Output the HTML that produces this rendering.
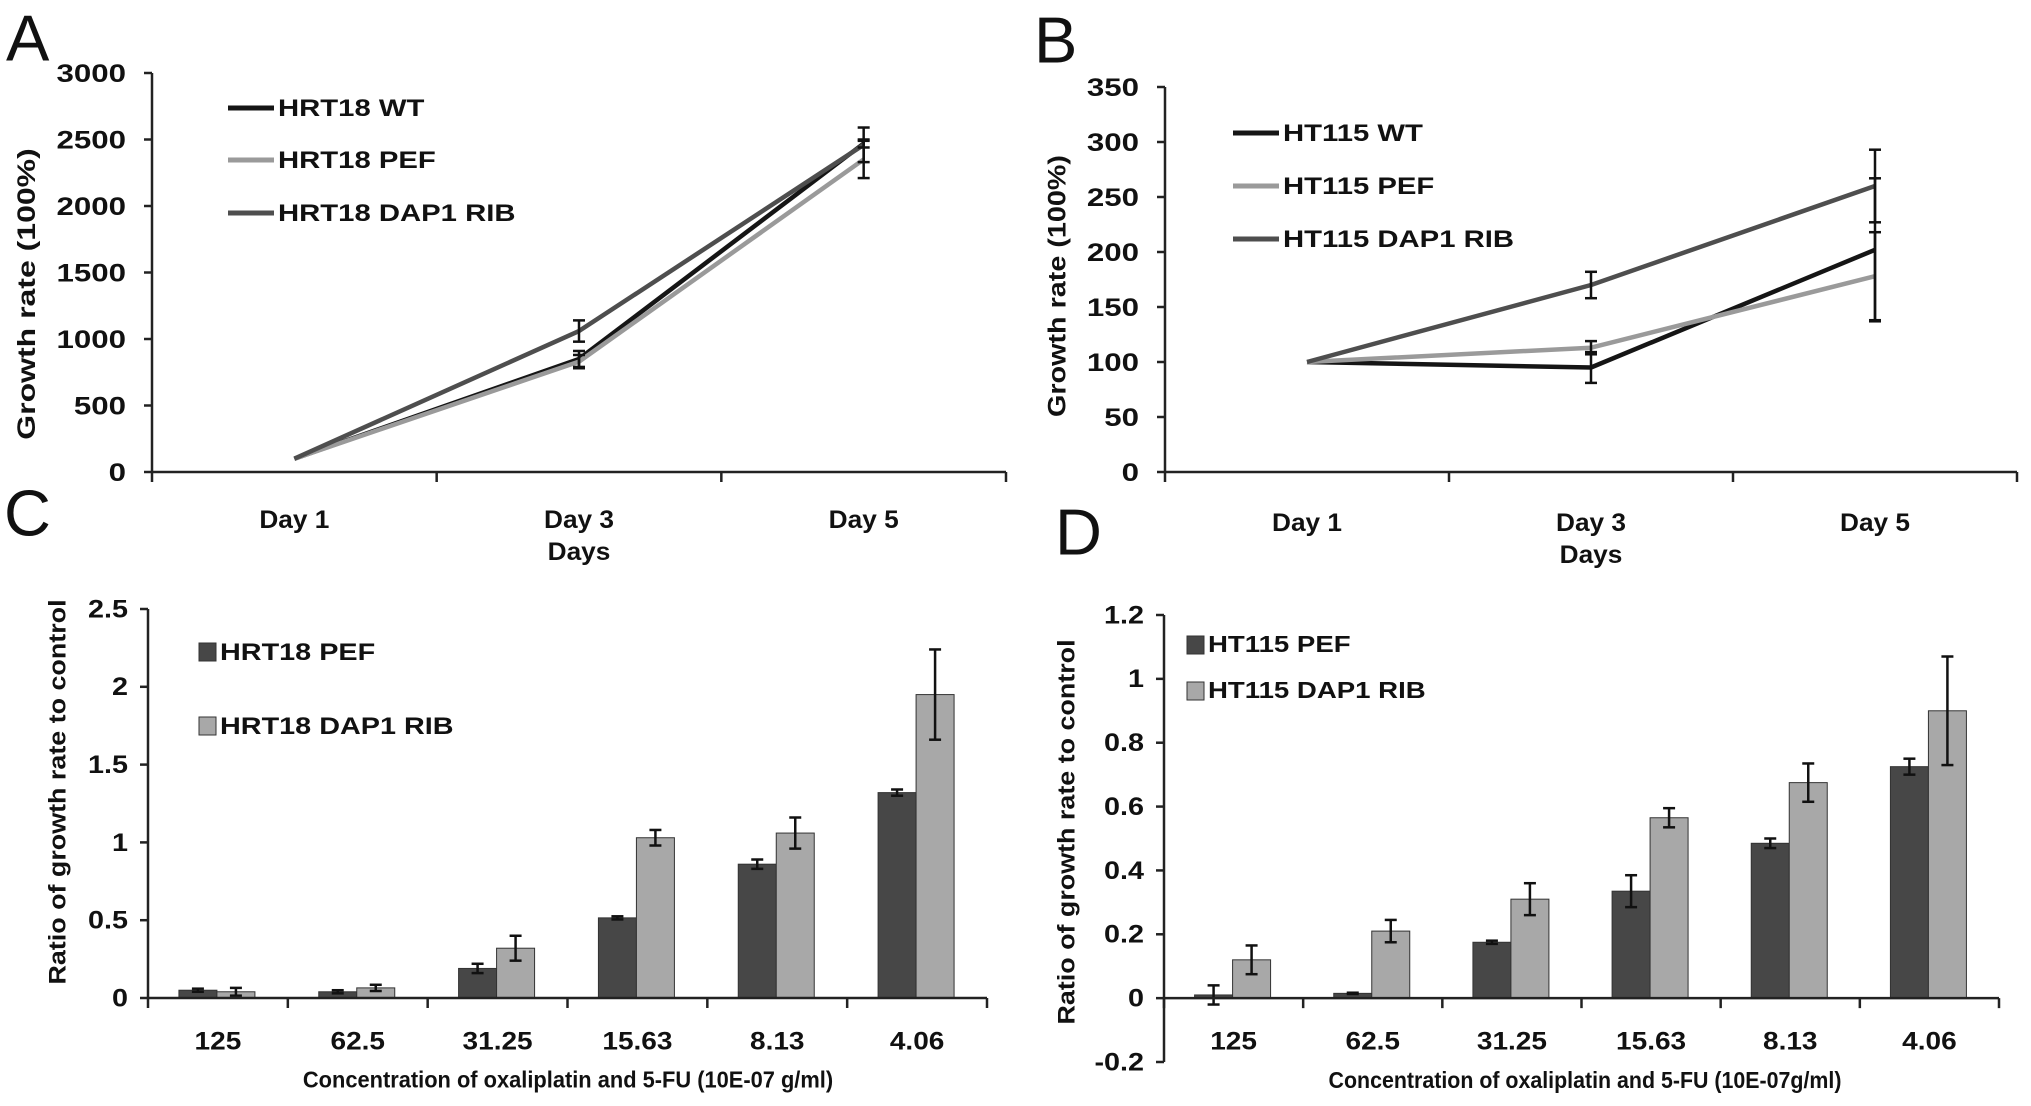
<!DOCTYPE html>
<html><head><meta charset="utf-8"><style>
html,body{margin:0;padding:0;background:#fff;}
svg{display:block;font-family:"Liberation Sans",Arial,sans-serif;}
</style></head><body>
<svg id="fig" width="2031" height="1106" viewBox="0 0 2031 1106" xmlns="http://www.w3.org/2000/svg"></svg>
<script>
// ---- Panel A data ----
const aCategories = ["Day 1", "Day 3", "Day 5"];
const aTicks = [0, 500, 1000, 1500, 2000, 2500, 3000];
const aSeriesNames = ["HRT18 WT", "HRT18 PEF", "HRT18 DAP1 RIB"];
const aWT = [100, 850, 2470];
const aWTErr = [0, 60, 30];
const aPEF = [100, 830, 2350];
const aPEFErr = [0, 50, 140];
const aDAP = [100, 1060, 2460];
const aDAPErr = [0, 80, 130];
// ---- Panel B data ----
const bCategories = ["Day 1", "Day 3", "Day 5"];
const bTicks = [0, 50, 100, 150, 200, 250, 300, 350];
const bSeriesNames = ["HT115 WT", "HT115 PEF", "HT115 DAP1 RIB"];
const bWT = [100, 95, 202];
const bWTErr = [0, 14, 65];
const bPEF = [100, 113, 178];
const bPEFErr = [0, 6, 40];
const bDAP = [100, 170, 260];
const bDAPErr = [0, 12, 33];
// ---- Panel C data ----
const cCategories = ["125", "62.5", "31.25", "15.63", "8.13", "4.06"];
const cTicks = [0, 0.5, 1, 1.5, 2, 2.5];
const cTickLabels = ["0", "0.5", "1", "1.5", "2", "2.5"];
const cSeriesNames = ["HRT18 PEF", "HRT18 DAP1 RIB"];
const cPEF = [0.05, 0.04, 0.19, 0.515, 0.86, 1.32];
const cPEFErr = [0.01, 0.01, 0.03, 0.01, 0.03, 0.02];
const cDAP = [0.04, 0.065, 0.32, 1.03, 1.06, 1.95];
const cDAPErr = [0.025, 0.02, 0.08, 0.05, 0.1, 0.29];
// ---- Panel D data ----
const dCategories = ["125", "62.5", "31.25", "15.63", "8.13", "4.06"];
const dTicks = [-0.2, 0, 0.2, 0.4, 0.6, 0.8, 1, 1.2];
const dTickLabels = ["-0.2", "0", "0.2", "0.4", "0.6", "0.8", "1", "1.2"];
const dSeriesNames = ["HT115 PEF", "HT115 DAP1 RIB"];
const dPEF = [0.01, 0.015, 0.175, 0.335, 0.485, 0.725];
const dPEFErr = [0.03, 0.002, 0.005, 0.05, 0.015, 0.025];
const dDAP = [0.12, 0.21, 0.31, 0.565, 0.675, 0.9];
const dDAPErr = [0.045, 0.035, 0.05, 0.03, 0.06, 0.17];

const NS = "http://www.w3.org/2000/svg";
const svg = document.getElementById("fig");
function mk(tag, attrs, parent){
  const e = document.createElementNS(NS, tag);
  for (const k in attrs) e.setAttribute(k, attrs[k]);
  (parent || svg).appendChild(e);
  return e;
}
function txt(x, y, s, size, anchor, sx, weight, name, parent, rot){
  const g = mk("g", {transform: "translate(" + x + "," + y + ")" + (rot ? " rotate(-90)" : "") + " scale(" + sx + ",1)"}, parent);
  const t = mk("text", {x: 0, y: 0, "font-size": size, "text-anchor": anchor, "font-weight": weight || "bold", fill: "#111", "dominant-baseline": "central"}, g);
  t.textContent = s;
  
  
  return t;
}
function errbar(x, y1, y2, parent){
  const g = mk("g", {stroke: "#111", "stroke-width": 2.5}, parent);
  
  
  mk("line", {x1: x, x2: x, y1: y1, y2: y2}, g);
  mk("line", {x1: x - 6, x2: x + 6, y1: y1, y2: y1}, g);
  mk("line", {x1: x - 6, x2: x + 6, y1: y2, y2: y2}, g);
}

function lineChart(o){
  const g = mk("g", {});
  
  
  const ymin = o.ticks[0], ymax = o.ticks[o.ticks.length - 1];
  const yS = v => o.y0 + (v - ymin) / (ymax - ymin) * (o.yTop - o.y0);
  const step = (o.xEnd - o.x0) / o.cats.length;
  const xS = i => o.x0 + step * (i + 0.5);
  const ax = mk("g", {stroke: "#222", "stroke-width": 2.5}, g);
  
  
  mk("line", {x1: o.x0, x2: o.x0, y1: o.yTop, y2: o.y0}, ax);
  mk("line", {x1: o.x0, x2: o.xEnd, y1: o.y0, y2: o.y0}, ax);
  o.ticks.forEach(v => {
    mk("line", {x1: o.x0 - 8, x2: o.x0, y1: yS(v), y2: yS(v)}, ax);
    txt(o.x0 - 26, yS(v), String(v), 25, "end", 1.25, "bold", "y-tick-label", g);
  });
  for (let i = 0; i <= o.cats.length; i++) mk("line", {x1: o.x0 + step * i, x2: o.x0 + step * i, y1: o.y0, y2: o.y0 + 10}, ax);
  o.cats.forEach((c, i) => txt(xS(i), o.catY, c, 25, "middle", 1.05, "bold", "x-tick-label", g));
  txt(xS(1), o.catY + 32, "Days", 25, "middle", 1.05, "bold", "x-axis-title", g);
  txt(o.titleX, o.titleY, o.ytitle, 25, "middle", o.titleS, "bold", "y-axis-title", g, true);
  o.series.forEach((s, si) => {
    const pts = s.vals.map((v, i) => xS(i) + "," + yS(v)).join(" ");
    const pl = mk("polyline", {points: pts, fill: "none", stroke: s.color, "stroke-width": 4.5, "stroke-linejoin": "round"}, g);
    
    
  });
  o.series.forEach(s => s.vals.forEach((v, i) => { if (s.err[i] > 0) errbar(xS(i), yS(v + s.err[i]), yS(v - s.err[i]), g); }));
  o.series.forEach((s, si) => {
    const y = o.legY[si];
    const l = mk("line", {x1: o.legX, x2: o.legX + 46, y1: y, y2: y, stroke: s.color, "stroke-width": 5}, g);
    
    
    txt(o.legX + 50, y, s.label, 24, "start", 1.22, "bold", "legend-entry", g);
  });
  txt(o.letterX, o.letterY, o.letter, 65, "start", 1, "normal", "panel-label", g);
}

function barChart(o){
  const g = mk("g", {});
  
  
  const ymin = o.ticks[0], ymax = o.ticks[o.ticks.length - 1];
  const yS = v => o.yMin + (v - ymin) / (ymax - ymin) * (o.yTop - o.yMin);
  const step = (o.xEnd - o.x0) / o.cats.length;
  const xS = i => o.x0 + step * (i + 0.5);
  const bw = 38;
  const ax = mk("g", {stroke: "#222", "stroke-width": 2.5}, g);
  
  
  o.series.forEach((s, si) => s.vals.forEach((v, i) => {
    const x = xS(i) + (si === 0 ? -bw - 1 : -1);
    const r = mk("rect", {x: x, y: Math.min(yS(v), yS(0)), width: bw, height: Math.abs(yS(0) - yS(v)), fill: s.color, stroke: "#333", "stroke-width": 1}, g);
    
    
  }));
  o.series.forEach((s, si) => s.vals.forEach((v, i) => {
    const x = xS(i) + (si === 0 ? -bw / 2 - 1 : bw / 2 - 1);
    errbar(x, yS(v + s.err[i]), yS(v - s.err[i]), g);
  }));
  g.appendChild(ax);
  mk("line", {x1: o.x0, x2: o.x0, y1: o.yTop, y2: o.yMin}, ax);
  mk("line", {x1: o.x0, x2: o.xEnd, y1: yS(0), y2: yS(0)}, ax);
  o.ticks.forEach((v, i) => {
    mk("line", {x1: o.x0 - 8, x2: o.x0, y1: yS(v), y2: yS(v)}, ax);
    txt(o.x0 - 20, yS(v), o.tickLabels[i], 25, "end", 1.15, "bold", "y-tick-label", g);
  });
  for (let i = 0; i <= o.cats.length; i++) mk("line", {x1: o.x0 + step * i, x2: o.x0 + step * i, y1: yS(0), y2: yS(0) + 10}, ax);
  o.cats.forEach((c, i) => txt(xS(i), o.catY, c, 25, "middle", 1.12, "bold", "x-tick-label", g));
  txt(o.xtX, o.xtY, o.xtitle, 23, "middle", o.xtS, "bold", "x-axis-title", g);
  txt(o.titleX, o.titleY, o.ytitle, 24, "middle", 1.12, "bold", "y-axis-title", g, true);
  o.series.forEach((s, si) => {
    const y = o.legY[si];
    const r = mk("rect", {x: o.legX, y: y - 9, width: 17, height: 18, fill: s.color, stroke: "#333", "stroke-width": 1}, g);
    
    
    txt(o.legX + 21, y, s.label, o.legSize, "start", 1.2, "bold", "legend-entry", g);
  });
  txt(o.letterX, o.letterY, o.letter, 65, "start", 1, "normal", "panel-label", g);
}

lineChart({name: "panel-a-chart", cats: aCategories, ticks: aTicks, x0: 152, xEnd: 1006, y0: 472, yTop: 73, catY: 520,
  ytitle: "Growth rate (100%)", titleX: 27, titleY: 294, titleS: 1.28, legX: 228, legY: [108, 160, 213], letter: "A", letterX: 6, letterY: 38,
  series: [
    {label: aSeriesNames[0], vals: aWT, err: aWTErr, color: "#151515"},
    {label: aSeriesNames[1], vals: aPEF, err: aPEFErr, color: "#9a9a9a"},
    {label: aSeriesNames[2], vals: aDAP, err: aDAPErr, color: "#4e4e4e"}]});
lineChart({name: "panel-b-chart", cats: bCategories, ticks: bTicks, x0: 1165, xEnd: 2017, y0: 472, yTop: 87, catY: 523,
  ytitle: "Growth rate (100%)", titleX: 1057, titleY: 286, titleS: 1.15, legX: 1233, legY: [133, 186, 239], letter: "B", letterX: 1034, letterY: 40,
  series: [
    {label: bSeriesNames[0], vals: bWT, err: bWTErr, color: "#151515"},
    {label: bSeriesNames[1], vals: bPEF, err: bPEFErr, color: "#9a9a9a"},
    {label: bSeriesNames[2], vals: bDAP, err: bDAPErr, color: "#4e4e4e"}]});
barChart({name: "panel-c-chart", cats: cCategories, ticks: cTicks, tickLabels: cTickLabels, x0: 148, xEnd: 987, yMin: 998, yTop: 609, catY: 1041,
  xtitle: "Concentration of oxaliplatin and 5-FU (10E-07 g/ml)", xtX: 568, xtY: 1080, xtS: 0.95,
  ytitle: "Ratio of growth rate to control", titleX: 58, titleY: 792, legX: 199, legY: [652, 726], legSize: 24, letter: "C", letterX: 4, letterY: 513,
  series: [
    {label: cSeriesNames[0], vals: cPEF, err: cPEFErr, color: "#474747"},
    {label: cSeriesNames[1], vals: cDAP, err: cDAPErr, color: "#a8a8a8"}]});
barChart({name: "panel-d-chart", cats: dCategories, ticks: dTicks, tickLabels: dTickLabels, x0: 1164, xEnd: 1999, yMin: 1062, yTop: 615, catY: 1041,
  xtitle: "Concentration of oxaliplatin and 5-FU (10E-07g/ml)", xtX: 1585, xtY: 1080, xtS: 0.93,
  ytitle: "Ratio of growth rate to control", titleX: 1067, titleY: 832, legX: 1187, legY: [645, 691], legSize: 23, letter: "D", letterX: 1055, letterY: 532,
  series: [
    {label: dSeriesNames[0], vals: dPEF, err: dPEFErr, color: "#474747"},
    {label: dSeriesNames[1], vals: dDAP, err: dDAPErr, color: "#a8a8a8"}]});
</script>
</body></html>
